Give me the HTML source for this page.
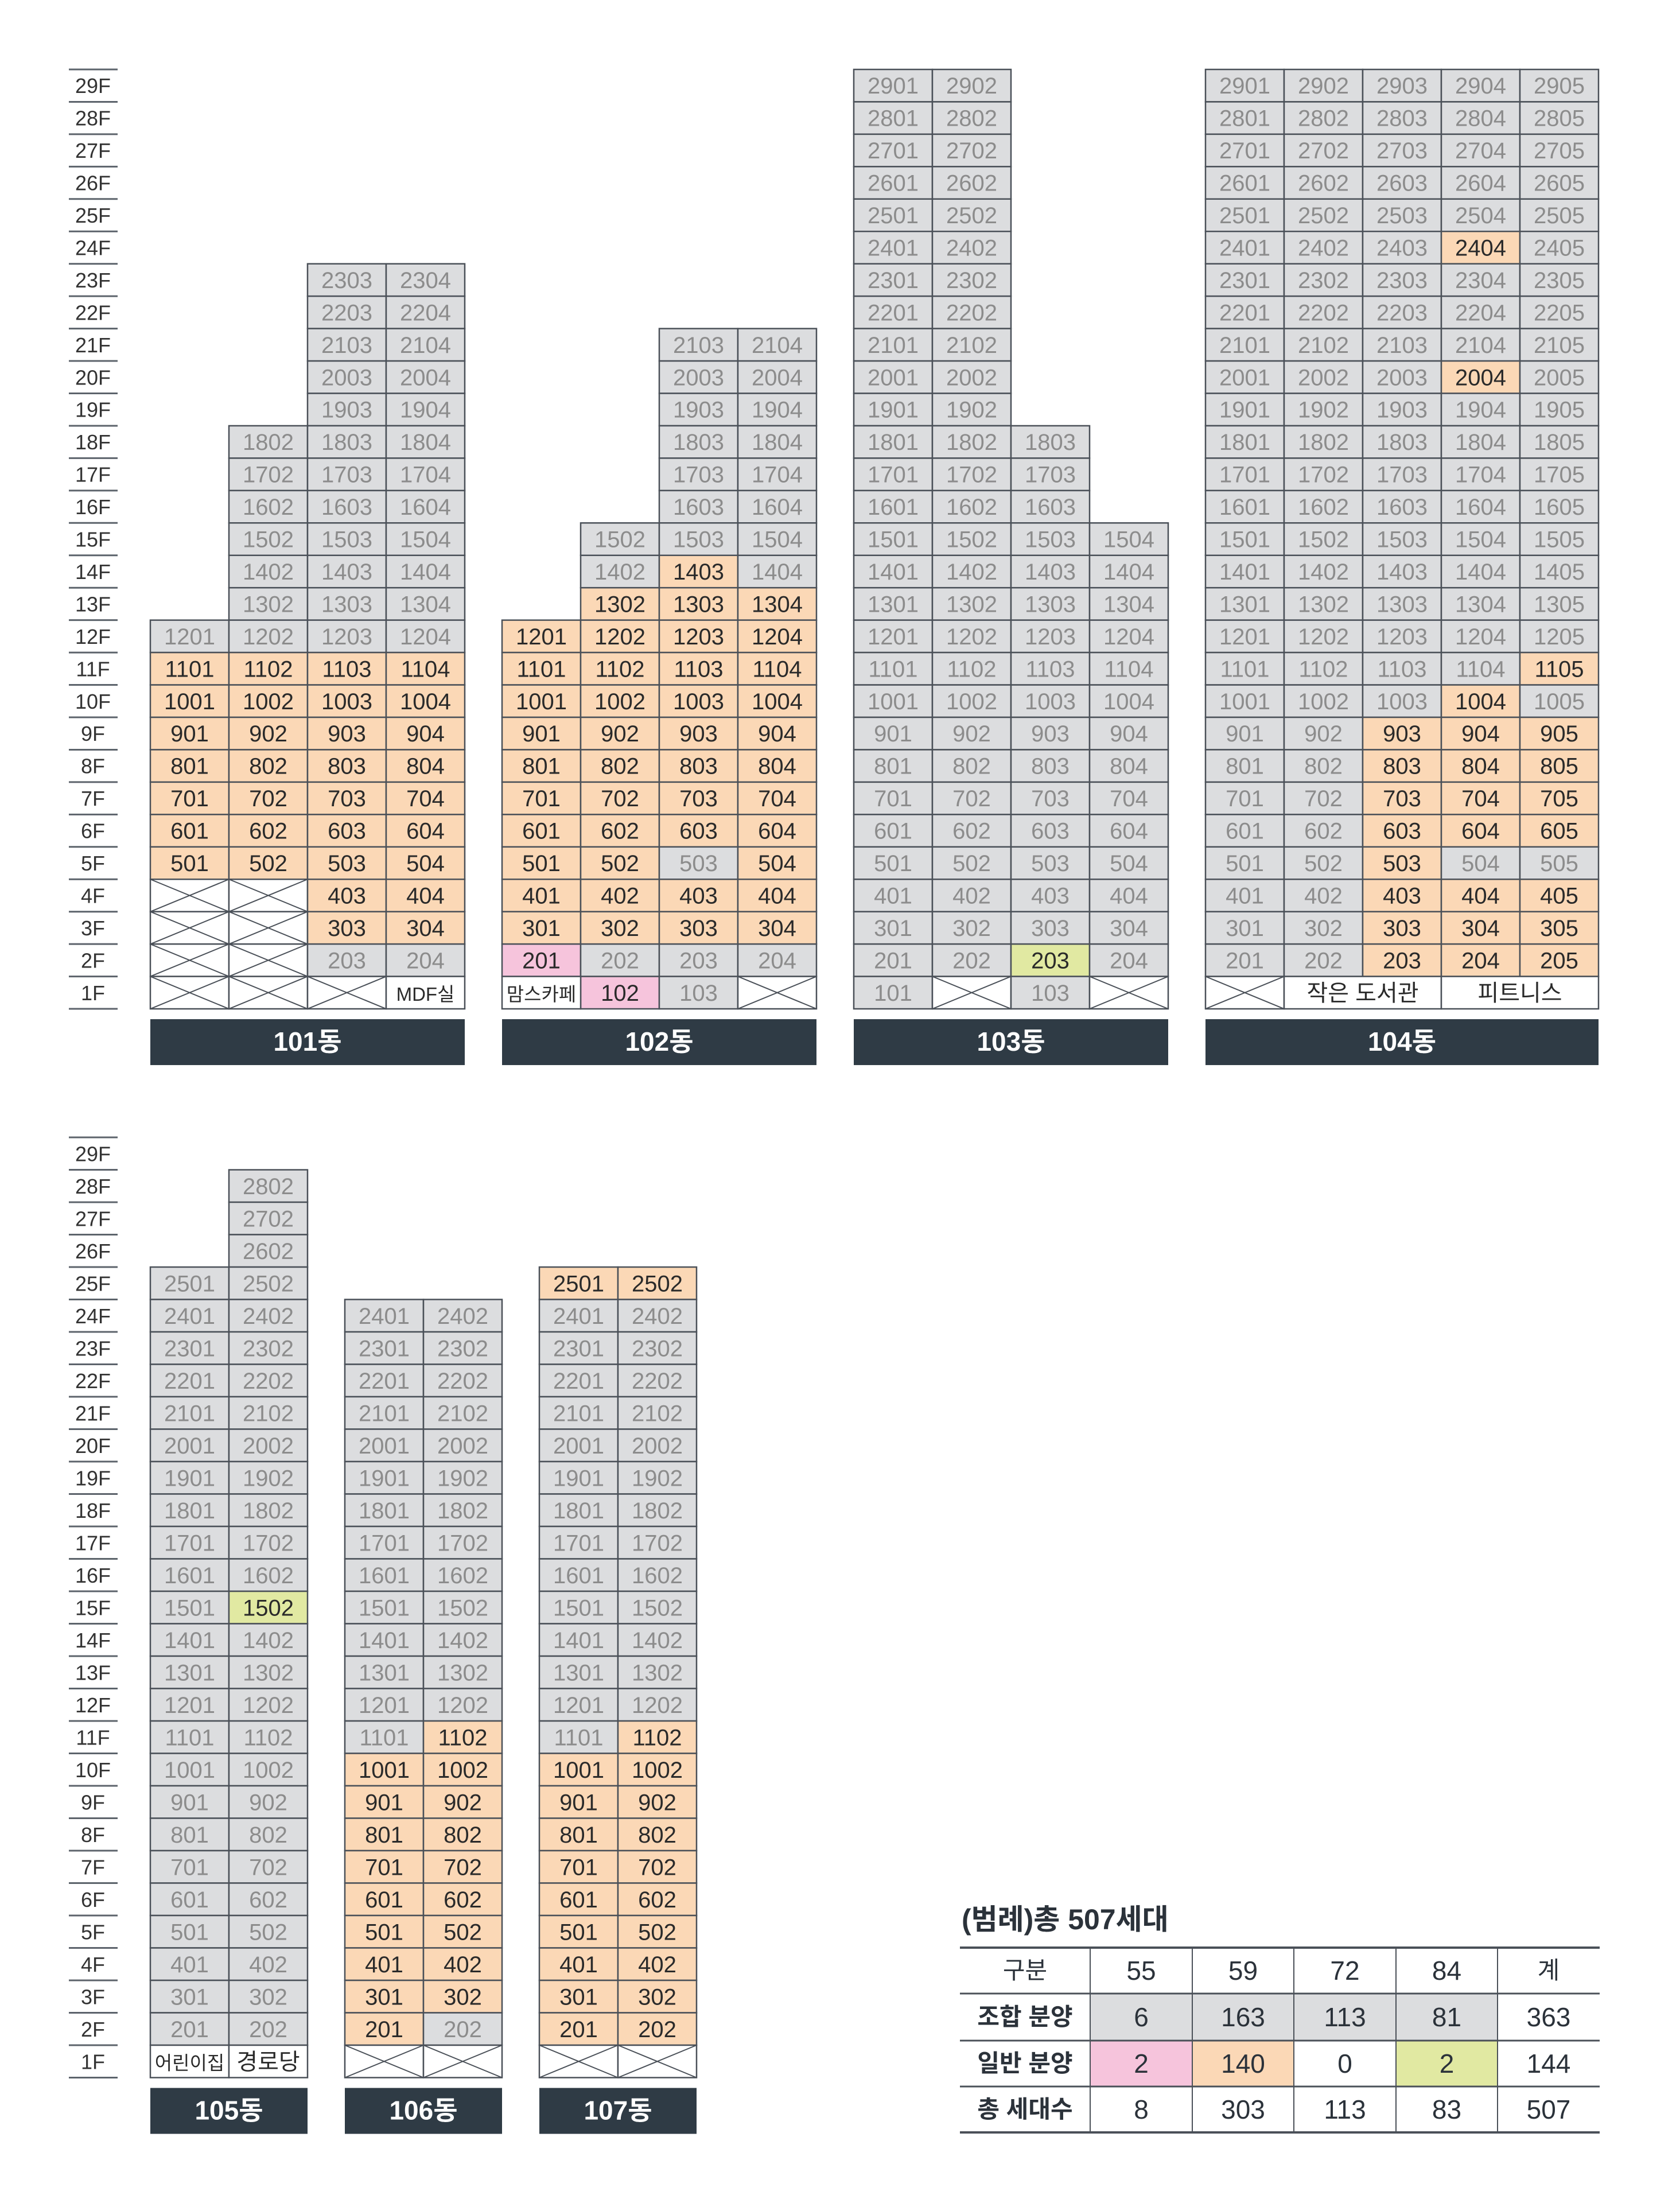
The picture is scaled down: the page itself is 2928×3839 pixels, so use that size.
<!DOCTYPE html>
<html><head><meta charset="utf-8">
<style>
html,body{margin:0;padding:0;background:#fff;}
body{width:2928px;height:3839px;overflow:hidden;}
svg{display:block;}
text{font-family:"Liberation Sans Narrow","Liberation Sans","Noto Sans CJK KR",sans-serif;}
.kr{font-family:"Liberation Sans","Noto Sans CJK KR",sans-serif;}
</style></head>
<body>
<svg id="chart" width="2928" height="3839" viewBox="0 0 2928 3839" xmlns="http://www.w3.org/2000/svg"></svg>
<script>
// ---- data ----
const buildingNames = ["101동","102동","103동","104동","105동","106동","107동"];
// rows from 29F (index 0) down to 1F. codes: . none, g grey, o orange(일반), p pink, y green, x crossed, w white facility
const rows101 = [].concat(Array(6).fill("...."),Array(5).fill("..gg"),Array(6).fill(".ggg"),["gggg"],Array(7).fill("oooo"),["xxoo","xxoo","xxgg","xxxw"]);
const rows102 = [].concat(Array(8).fill("...."),Array(6).fill("..gg"),[".ggg",".gog",".ooo"],Array(7).fill("oooo"),["oogo","oooo","oooo","pggg","wpgx"]);
const rows103 = [].concat(Array(11).fill("gg.."),Array(3).fill("ggg."),Array(13).fill("gggg"),["ggyg","gxgx"]);
const rows104 = [].concat(Array(5).fill("ggggg"),["gggog"],Array(3).fill("ggggg"),["gggog"],Array(8).fill("ggggg"),["ggggo","gggog"],Array(4).fill("ggooo"),["ggogg"],Array(3).fill("ggooo"),["xwwww"]);
const rows105 = [].concat([".."],Array(3).fill(".g"),Array(10).fill("gg"),["gy"],Array(13).fill("gg"),["ww"]);
const rows106 = [].concat(Array(5).fill(".."),Array(13).fill("gg"),["go"],Array(8).fill("oo"),["og","xx"]);
const rows107 = [].concat(Array(4).fill(".."),["oo"],Array(13).fill("gg"),["go"],Array(9).fill("oo"),["xx"]);
const buildingRows = [rows101,rows102,rows103,rows104,rows105,rows106,rows107];
// ground-floor labels per building: [col, span, text]
const groundLabels = [[[3,1,"MDF실"]],[[0,1,"맘스카페"],[1,1,"102"],[2,1,"103"]],[[0,1,"101"],[2,1,"103"]],[[1,2,"작은 도서관"],[3,2,"피트니스"]],[[0,1,"어린이집"],[1,1,"경로당"]],[],[]];
const floorLabels = Array.from({length:29},(_,i)=>(29-i)+"F");
const legendHeader = ["구분","55","59","72","84","계"];
const legendRowNames = ["조합 분양","일반 분양","총 세대수"];
const legendUnion = [6,163,113,81,363];
const legendGeneral = [2,140,0,2,144];
const legendTotal = [8,303,113,83,507];
</script>
<script>
const NS="http://www.w3.org/2000/svg";
const svg=document.getElementById('chart');
function mk(tag,attrs,parent){const e=document.createElementNS(NS,tag);for(const k in attrs)e.setAttribute(k,attrs[k]);(parent||svg).appendChild(e);return e;}
const fills={g:"#dcdddf",o:"#fbd8b6",p:"#f6c4dc",y:"#e1e9a2",x:"#ffffff",w:"#ffffff"};
const txtCol={g:"#8c8c8c",o:"#2a2a2a",p:"#2a2a2a",y:"#2a2a2a",w:"#2a2a2a"};
const CW=137, STROKE="#4a5058";
const layouts=[
 {x:262,y0:121,h:56.45},{x:875,y0:121,h:56.45},{x:1488,y0:121,h:56.45},{x:2101,y0:121,h:56.45},
 {x:262,y0:1982,h:56.5},{x:601,y0:1982,h:56.5},{x:940,y0:1982,h:56.5}];

[[121,56.45],[1982,56.5]].forEach(([y0,h],si)=>{
  const g=mk('g',{});
  
  
  for(let i=0;i<=29;i++){
    mk('line',{x1:120,x2:205,y1:y0+i*h,y2:y0+i*h,stroke:"#5c636b","stroke-width":3},g);
  }
  floorLabels.forEach((lab,i)=>{
    const t=mk('text',{x:162,y:y0+i*h+h/2+13,"text-anchor":"middle","font-size":36,fill:"#333"},g);
    t.textContent=lab;
    
    
  });
});

buildingRows.forEach((rows,b)=>{
  const L=layouts[b];
  const g=mk('g',{});
  
  
  const nF=rows.length;
  rows.forEach((row,i)=>{
    const floor=nF-i;
    const y=L.y0+i*L.h;
    for(let c=0;c<row.length;c++){
      const code=row[c];
      if(code==='.')continue;
      const x=L.x+c*CW;
      if(floor===1 && code==='w'){continue;}
      const r=mk('rect',{x:x,y:y,width:CW,height:L.h,fill:fills[code],stroke:STROKE,"stroke-width":2.5},g);
      
      
      if(code==='x'){
        mk('line',{x1:x,y1:y,x2:x+CW,y2:y+L.h,stroke:STROKE,"stroke-width":2},g);
        mk('line',{x1:x,y1:y+L.h,x2:x+CW,y2:y,stroke:STROKE,"stroke-width":2},g);
        continue;
      }
      if(floor===1)continue;
      const t=mk('text',{x:x+CW/2,y:y+L.h/2+14,"text-anchor":"middle","font-size":40,fill:txtCol[code]},g);
      t.textContent=String(floor*100+c+1);
      
      
    }
  });
  const yG=L.y0+(nF-1)*L.h;
  groundLabels[b].forEach(([c,span,text])=>{
    const x=L.x+c*CW;
    const code=rows[nF-1][c];
    if(code==='w'){
      const r=mk('rect',{x:x,y:yG,width:CW*span,height:L.h,fill:"#fff",stroke:STROKE,"stroke-width":2.5},g);
      
      
    }
    const isKr=/[^\x00-\x7f]/.test(text);
    const fs=isKr?(text.length>=4&&span===1?33:40):40;
    const t=mk('text',{x:x+CW*span/2,y:yG+L.h/2+(isKr?14:14),"text-anchor":"middle","font-size":fs,fill:code==='g'?"#8c8c8c":"#2a2a2a"},g);
    if(isKr)t.setAttribute('class','kr');
    t.textContent=text;
    
    
  });
  const ncol=rows[0].length;
  const by=L.y0+29*L.h+18;
  const bar=mk('rect',{x:L.x,y:by,width:CW*ncol,height:80,fill:"#2f3b45"},g);
  
  
  const bt=mk('text',{x:L.x+CW*ncol/2,y:by+55,"text-anchor":"middle","font-size":46,"font-weight":"bold",fill:"#fff",class:"kr"},g);
  bt.textContent=buildingNames[b];
  
  
});

(function(){
  const g=mk('g',{});
  
  
  const title=mk('text',{x:1676,y:3362,"font-size":50,"font-weight":"bold",fill:"#2b323a",class:"kr"},g);
  title.textContent="(범례)총 507세대";
  
  
  const xs=[1673,1900,2078,2255,2433,2610,2788];
  const ys=[3394,3474,3556,3636,3716];
  const rowFills=[null,["#dcdddf","#dcdddf","#dcdddf","#dcdddf",null],["#f6c4dc","#fbd8b6",null,"#e1e9a2",null],null];
  rowFills.forEach((rf,r)=>{ if(!rf)return; rf.forEach((f,c)=>{ if(!f)return;
    const rc=mk('rect',{x:xs[c+1],y:ys[r],width:xs[c+2]-xs[c+1],height:ys[r+1]-ys[r],fill:f},g);
    
    
  });});
  ys.forEach((y,i)=>mk('line',{x1:xs[0],x2:xs[6],y1:y,y2:y,stroke:"#4a5058","stroke-width":(i===0||i===4)?4:3},g));
  for(let c=1;c<6;c++)mk('line',{x1:xs[c],x2:xs[c],y1:ys[0],y2:ys[4],stroke:"#4a5058","stroke-width":2},g);
  const data=[legendHeader,[legendRowNames[0]].concat(legendUnion),[legendRowNames[1]].concat(legendGeneral),[legendRowNames[2]].concat(legendTotal)];
  data.forEach((row,r)=>row.forEach((v,c)=>{
    const s=String(v);
    const kr=/[^\x00-\x7f]/.test(s);
    const t=mk('text',{x:(xs[c]+xs[c+1])/2,y:(ys[r]+ys[r+1])/2+(kr?14:16),"text-anchor":"middle","font-size":kr?42:46,"font-weight":kr&&c===0&&r>0?"bold":"normal",fill:"#2b323a"},g);
    if(kr)t.setAttribute('class','kr');
    t.textContent=s;
    
    
  }));
})();
</script>
</body></html>
